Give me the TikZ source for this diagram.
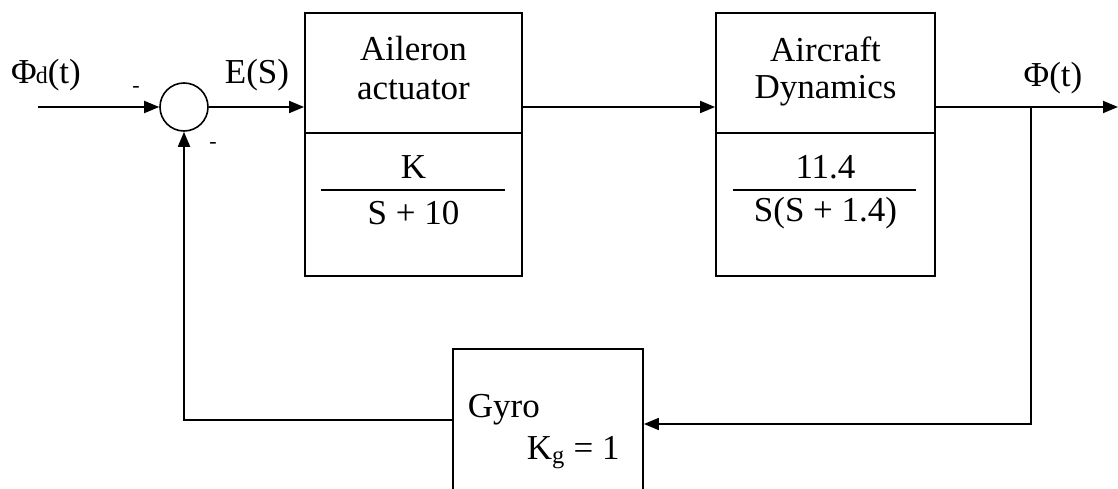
\documentclass[tikz,border=0pt]{standalone}
\usepackage{fontspec}
\setmainfont{Liberation Serif}
\usetikzlibrary{arrows.meta,calc}
\begin{document}
\begin{tikzpicture}[x=1pt,y=-1pt,
  line width=1.8pt,
  blk/.style={draw,rectangle,inner sep=0pt},
  lbl/.style={inner sep=0pt,font=\fontsize{35}{38}\selectfont},
  sgn/.style={inner sep=0pt,font=\fontsize{22}{24}\selectfont},
  conn/.style={-{Triangle[length=15pt,width=12pt]}},
  plain/.style={line width=1.8pt}]
\useasboundingbox (0,0) rectangle (1118,489);
% blocks
\node[draw,circle,minimum size=48pt,inner sep=0pt,line width=1.6pt] (sum) at (184,107) {};
\node[blk,minimum width=217pt,minimum height=263pt] (act) at (413.5,144.5) {};
\node[blk,minimum width=219pt,minimum height=263pt] (air) at (825.5,144.5) {};
\node[blk,minimum width=190pt,minimum height=180pt,anchor=north] (gyro) at (548,348) {};
% dividers
\draw[plain] (act.west |- 0,133) -- (act.east |- 0,133);
\draw[plain] (air.west |- 0,133) -- (air.east |- 0,133);
\draw[line width=1.5pt] (321,190) -- (505,190);
\draw[line width=1.5pt] (733,190) -- (916,190);
% texts
\node[lbl] (t1) at (413.5,49) {Aileron};
\node[lbl] (t2) at (413.5,90) {actuator};
\node[lbl] (t3) at (413.5,167) {K};
\node[lbl] (t4) at (413.5,213) {S + 10};
\node[lbl] (t5) at (825.5,49) {Aircraft};
\node[lbl] (t6) at (825.5,91) {Dynamics};
\node[lbl] (t7) at (825.5,167) {11.4};
\node[lbl] (t8) at (825.5,213) {S(S + 1.4)};
\node[lbl,anchor=west] (t9) at (467,410) {Gyro};
\node[lbl,anchor=west] (t10) at (526,453) {K\textsubscript{g} = 1};
\node[lbl] (in) at (46,75) {Φ\kern-1pt{\fontsize{24}{26}\selectfont d}(t)};
\node[lbl] (es) at (257,75) {E(S)};
\node[lbl] (ph) at (1053,78) {Φ(t)};
\node[sgn] (m1) at (136,89) {-};
\node[sgn] (m2) at (213,145) {-};
% connectors
\coordinate (start) at (38,107);
\coordinate (out) at (1118,107);
\coordinate (br) at (1031,107);
\coordinate (fb) at (184,420);
\draw[conn] (start) -- (sum.west);
\draw[conn] (sum.east) -- (act.west |- sum.east);
\draw[conn] (act.east |- 0,107) -- (air.west |- 0,107);
\draw[conn] (air.east |- 0,107) -- (out);
\draw[conn] (br) -- (br |- 0,424) -- (gyro.east |- 0,424);
\draw[conn] (gyro.west |- 0,420) -- (fb) -- (sum.south);
\end{tikzpicture}
\end{document}
